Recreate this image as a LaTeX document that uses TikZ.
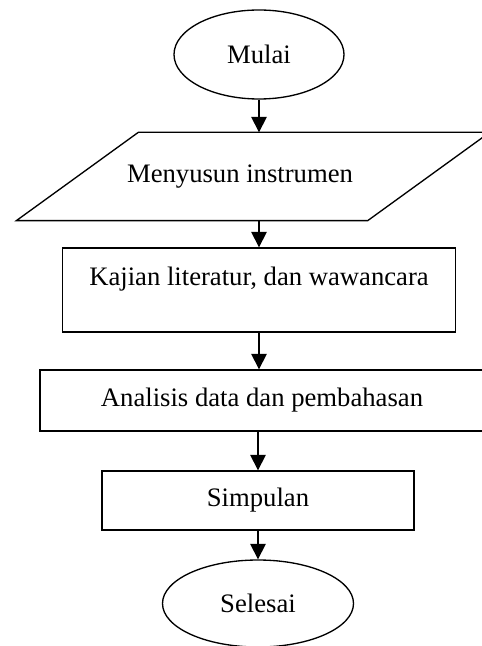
\documentclass[tikz,border=0pt]{standalone}
\usepackage{fontspec}
\setmainfont{Liberation Serif}
\usetikzlibrary{arrows.meta,shapes.geometric}

\begin{document}
\begin{tikzpicture}[x=0.45pt,y=-0.45pt,line width=0.6pt,
    every node/.style={font=\fontsize{12}{14}\selectfont,draw,inner sep=2pt},
    terminal/.style={ellipse},
    proses/.style={rectangle},
    masukan/.style={rectangle,draw=none}]
    \useasboundingbox (0,0) rectangle (481,646);

    \node[terminal,minimum width=170*0.45pt,minimum height=89*0.45pt] (1) at (259,54.5) {Mulai};
    \node[masukan,minimum width=350*0.45pt,minimum height=87*0.45pt] (2) at (240,176.5) {Menyusun instrumen};
    \node[proses,minimum width=393*0.45pt,minimum height=84*0.45pt,text height=9pt,text depth=13.5pt] (3) at (259,290) {Kajian literatur, dan wawancara};
    \node[proses,minimum width=444*0.45pt,minimum height=61*0.45pt] (4) at (262,400.5) {Analisis data dan pembahasan};
    \node[proses,minimum width=312*0.45pt,minimum height=59*0.45pt] (5) at (258,500.5) {Simpulan};
    \node[terminal,minimum width=191*0.45pt,minimum height=87*0.45pt] (6) at (258,603.5) {Selesai};

    % jajaran genjang untuk masukan
    \draw ([xshift=74*0.45pt]2.north west) -- ([xshift=74*0.45pt]2.north east)
      -- ([xshift=-48*0.45pt]2.south east) -- ([xshift=-48*0.45pt]2.south west) -- cycle;

    \path[-{Triangle[length=7pt,width=7pt]},black]
    (1.south) edge (1.south |- 2.north)
    (3.north |- 2.south) edge (3.north)
    (3.south) edge (3.south |- 4.north)
    (5.north |- 4.south) edge (5.north)
    (5.south) edge (6.north);

\end{tikzpicture}
\end{document}
